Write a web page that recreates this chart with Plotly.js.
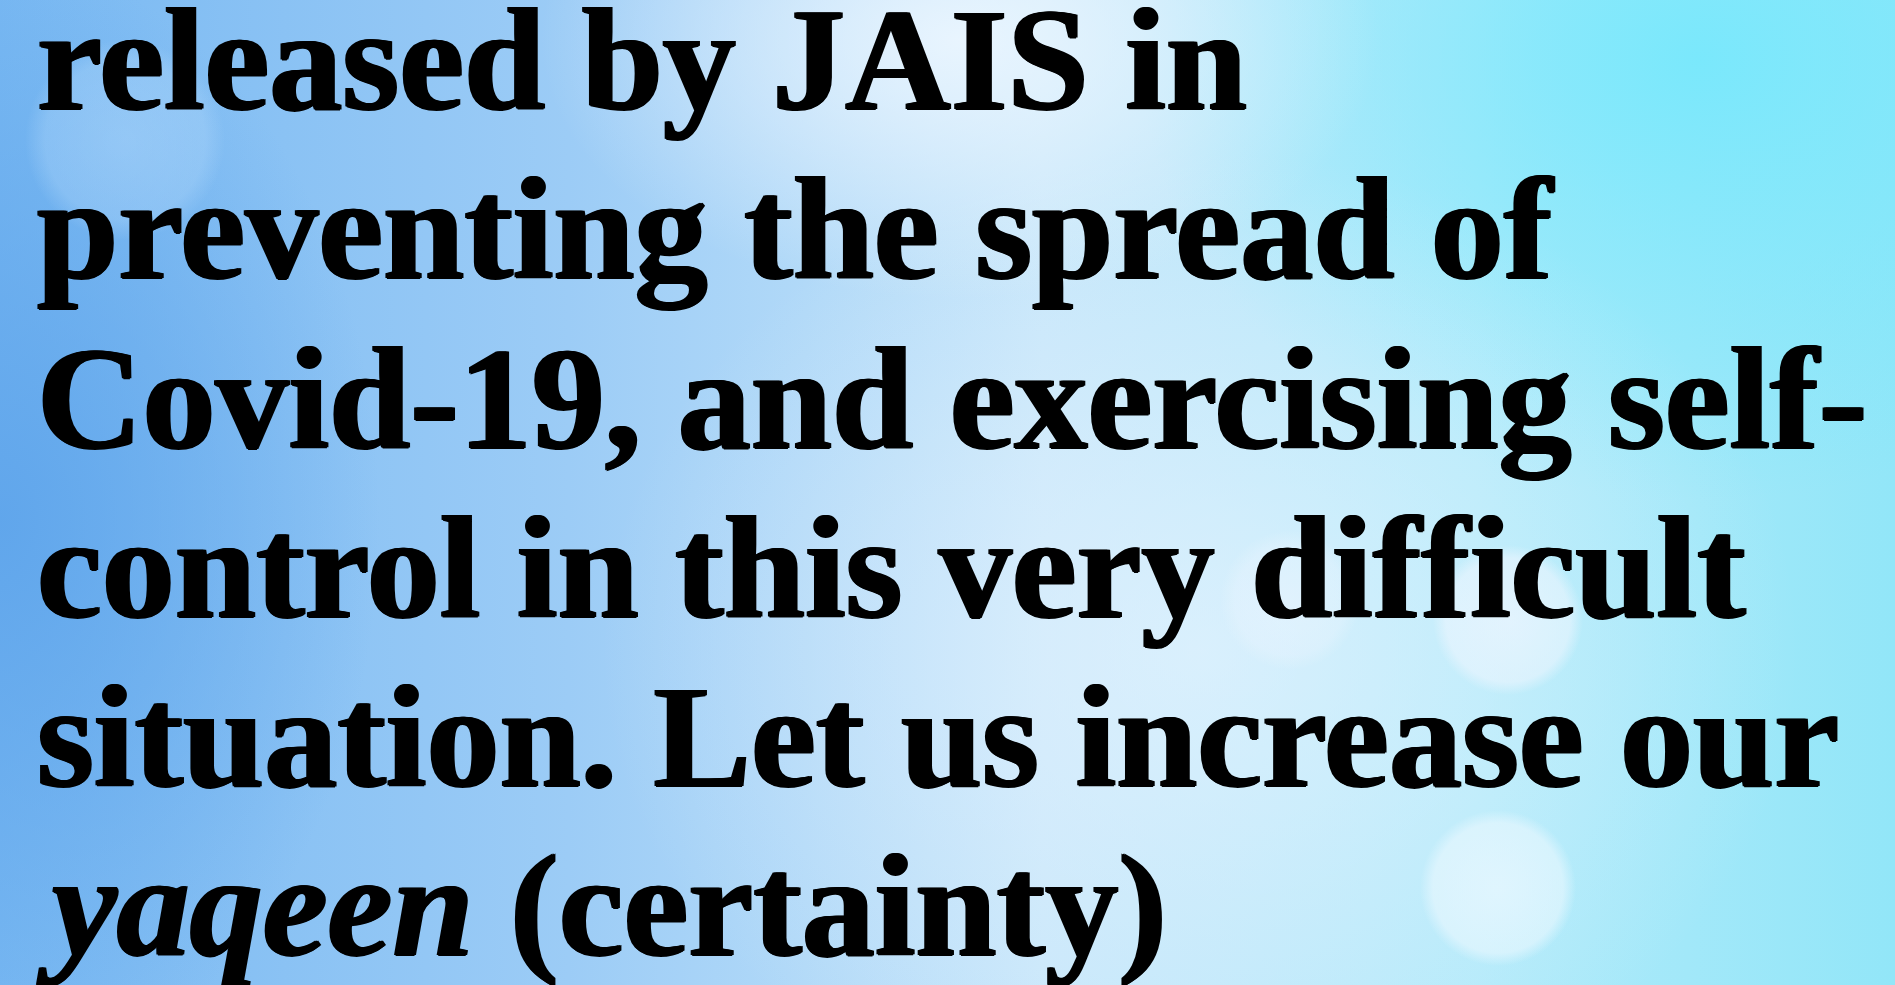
<!DOCTYPE html>
<html>
<head>
<meta charset="utf-8">
<script src="https://cdn.plot.ly/plotly-3.0.1.min.js"></script>
<style>
html, body { margin:0; padding:0; width:1895px; height:985px; overflow:hidden; }
#bg {
  position:absolute; left:0; top:0; width:1895px; height:985px;
  background:
    radial-gradient(circle at 1498px 888px, rgba(235,248,255,0.75) 0, rgba(235,248,255,0.6) 65px, rgba(235,248,255,0) 78px),
    radial-gradient(circle at 1508px 620px, rgba(240,246,255,0.7) 0, rgba(240,246,255,0.55) 62px, rgba(240,246,255,0) 75px),
    radial-gradient(circle at 1290px 600px, rgba(240,246,255,0.45) 0, rgba(240,246,255,0.3) 55px, rgba(240,246,255,0) 70px),
    radial-gradient(circle at 125px 140px, rgba(200,230,255,0.35) 0, rgba(200,230,255,0.25) 80px, rgba(200,230,255,0) 100px),
    radial-gradient(ellipse 420px 260px at 960px 40px, rgba(240,248,255,0.85), rgba(240,248,255,0) 100%),
    radial-gradient(ellipse 600px 500px at 1200px 650px, rgba(235,245,255,0.6), rgba(235,245,255,0) 100%),
    radial-gradient(ellipse 380px 560px at 0px 520px, rgba(95,165,235,0.95), rgba(95,165,235,0) 100%),
    radial-gradient(ellipse 560px 440px at 1700px 60px, rgba(120,232,252,0.95), rgba(120,232,252,0) 100%),
    linear-gradient(90deg, #78b8f2 0%, #9cccf6 30%, #c6e6fa 55%, #b2eafa 78%, #92e6f8 100%);
}
#chart { position:absolute; left:0; top:0; width:1895px; height:985px; }
</style>
</head>
<body>
<div id="bg"></div>
<div id="chart"></div>
<script>
// Text content, one entry per rendered line
const lines = [
  "released by JAIS in",
  "preventing the spread of",
  "Covid-19, and exercising self-",
  "control in this very difficult",
  "situation. Let us increase our",
  "<i>yaqeen</i> (certainty)"
];

const W = 1895, H = 985;
const firstBaseline = 112, lineStep = 169.2, leftPx = 35, fontSize = 146;

const annotations = lines.map((t, i) => {
  const mid = firstBaseline + i * lineStep - 0.355 * fontSize;
  return {
    text: t, xref: 'paper', yref: 'paper',
    x: leftPx / W, y: 1 - mid / H,
    xanchor: 'left', yanchor: 'middle', showarrow: false,
    font: {
      family: 'Liberation Serif, serif', size: fontSize, color: '#000000', weight: 'bold',
      shadow: '1.5px 0 0 #000, -1.5px 0 0 #000, 0 1px 0 #000'
    }
  };
});

Plotly.newPlot('chart', [], {
  width: W, height: H,
  margin: { l: 0, r: 0, t: 0, b: 0 },
  paper_bgcolor: 'rgba(0,0,0,0)', plot_bgcolor: 'rgba(0,0,0,0)',
  xaxis: { visible: false, range: [0, 1] },
  yaxis: { visible: false, range: [0, 1] },
  showlegend: false,
  annotations: annotations
}, { displayModeBar: false, staticPlot: true });
</script>
</body>
</html>
